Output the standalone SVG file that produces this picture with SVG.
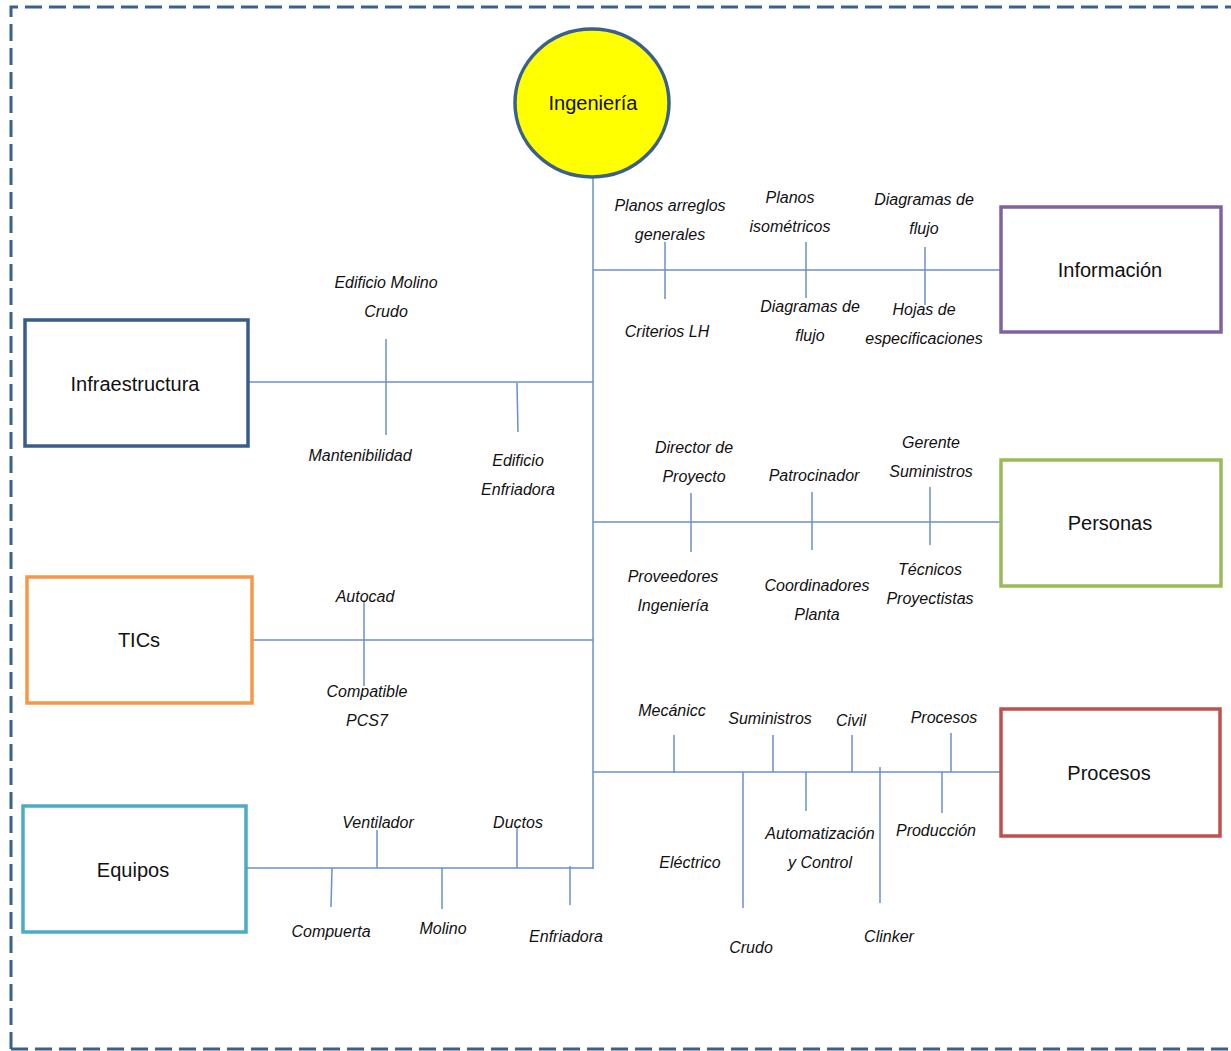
<svg xmlns="http://www.w3.org/2000/svg" width="1231" height="1051" viewBox="0 0 1231 1051">
<style>
.lbl{font-family:"Liberation Sans",Arial,sans-serif;font-style:italic;font-size:16px;fill:#111;text-anchor:middle}
.nt{font-family:"Liberation Sans",Arial,sans-serif;font-size:20px;fill:#111;text-anchor:middle;dominant-baseline:central}
.ln{stroke:#6890CA;stroke-width:1.5;fill:none}
.box{fill:#fff;stroke-width:3.5}
</style>
<rect width="1231" height="1051" fill="#fff"/>
<path d="M11 1049 V7 H1231 M11 1049 H1231" fill="none" stroke="#3B5F8F" stroke-width="3" stroke-dasharray="17 7"/>
<g id="connectors" class="ln">
<line x1="593" y1="178" x2="593" y2="869"/>
<line x1="593" y1="270" x2="1001" y2="270"/>
<line x1="248" y1="382" x2="593" y2="382"/>
<line x1="593" y1="522" x2="1001" y2="522"/>
<line x1="252" y1="640" x2="593" y2="640"/>
<line x1="593" y1="772" x2="1001" y2="772"/>
<line x1="246" y1="868" x2="593" y2="868"/>
<line x1="665" y1="242" x2="665" y2="299"/>
<line x1="806" y1="242" x2="806" y2="298"/>
<line x1="925" y1="247" x2="925" y2="305"/>
<line x1="386" y1="339" x2="386" y2="435"/>
<line x1="517" y1="383" x2="518" y2="432"/>
<line x1="691" y1="493" x2="691" y2="552"/>
<line x1="812" y1="492" x2="812" y2="550"/>
<line x1="930" y1="487" x2="930" y2="545"/>
<line x1="364" y1="600" x2="364" y2="686"/>
<line x1="377" y1="830" x2="377" y2="868"/>
<line x1="332" y1="868" x2="331" y2="907"/>
<line x1="442" y1="868" x2="442" y2="909"/>
<line x1="517" y1="828" x2="517" y2="868"/>
<line x1="570" y1="866" x2="570" y2="905"/>
<line x1="674" y1="735" x2="674" y2="773"/>
<line x1="743" y1="772" x2="743" y2="908"/>
<line x1="773" y1="735" x2="773" y2="772"/>
<line x1="806" y1="772" x2="806" y2="811"/>
<line x1="852" y1="735" x2="852" y2="772"/>
<line x1="880" y1="767" x2="880" y2="903"/>
<line x1="951" y1="733" x2="951" y2="772"/>
<line x1="942" y1="772" x2="942" y2="813"/>
</g>
<g id="ingenieria">
<ellipse cx="592" cy="103" rx="77" ry="74" fill="#FFFF00" stroke="#3B5F8F" stroke-width="3.5"/>
<text class="nt" x="593" y="103">Ingeniería</text>
</g>
<g id="informacion">
<rect class="box" x="1001" y="207" width="220" height="125" stroke="#7F63A1"/>
<text class="nt" x="1110" y="270">Información</text>
</g>
<g id="personas">
<rect class="box" x="1001" y="460" width="220" height="126" stroke="#9BBB59"/>
<text class="nt" x="1110" y="523">Personas</text>
</g>
<g id="procesos">
<rect class="box" x="1001" y="709" width="219" height="127" stroke="#C0504D"/>
<text class="nt" x="1109" y="773">Procesos</text>
</g>
<g id="infraestructura">
<rect class="box" x="25" y="320" width="223" height="126" stroke="#385D8A"/>
<text class="nt" x="135" y="384">Infraestructura</text>
</g>
<g id="tics">
<rect class="box" x="27" y="577" width="225" height="126" stroke="#F79646"/>
<text class="nt" x="139" y="640">TICs</text>
</g>
<g id="equipos">
<rect class="box" x="23" y="806" width="223" height="126" stroke="#4BACC6"/>
<text class="nt" x="133" y="870">Equipos</text>
</g>
<g id="labels">
<text class="lbl" x="670" y="211">Planos arreglos</text>
<text class="lbl" x="670" y="240">generales</text>
<text class="lbl" x="667" y="337">Criterios LH</text>
<text class="lbl" x="790" y="203">Planos</text>
<text class="lbl" x="790" y="232">isométricos</text>
<text class="lbl" x="810" y="312">Diagramas de</text>
<text class="lbl" x="810" y="341">flujo</text>
<text class="lbl" x="924" y="205">Diagramas de</text>
<text class="lbl" x="924" y="234">flujo</text>
<text class="lbl" x="924" y="315">Hojas de</text>
<text class="lbl" x="924" y="344">especificaciones</text>
<text class="lbl" x="386" y="288">Edificio Molino</text>
<text class="lbl" x="386" y="317">Crudo</text>
<text class="lbl" x="360" y="461">Mantenibilidad</text>
<text class="lbl" x="518" y="466">Edificio</text>
<text class="lbl" x="518" y="495">Enfriadora</text>
<text class="lbl" x="694" y="453">Director de</text>
<text class="lbl" x="694" y="482">Proyecto</text>
<text class="lbl" x="814" y="481">Patrocinador</text>
<text class="lbl" x="931" y="448">Gerente</text>
<text class="lbl" x="931" y="477">Suministros</text>
<text class="lbl" x="673" y="582">Proveedores</text>
<text class="lbl" x="673" y="611">Ingeniería</text>
<text class="lbl" x="817" y="591">Coordinadores</text>
<text class="lbl" x="817" y="620">Planta</text>
<text class="lbl" x="930" y="575">Técnicos</text>
<text class="lbl" x="930" y="604">Proyectistas</text>
<text class="lbl" x="365" y="602">Autocad</text>
<text class="lbl" x="367" y="697">Compatible</text>
<text class="lbl" x="367" y="726">PCS7</text>
<text class="lbl" x="378" y="828">Ventilador</text>
<text class="lbl" x="518" y="828">Ductos</text>
<text class="lbl" x="331" y="937">Compuerta</text>
<text class="lbl" x="443" y="934">Molino</text>
<text class="lbl" x="566" y="942">Enfriadora</text>
<text class="lbl" x="672" y="716">Mecánicc</text>
<text class="lbl" x="770" y="724">Suministros</text>
<text class="lbl" x="851" y="726">Civil</text>
<text class="lbl" x="944" y="723">Procesos</text>
<text class="lbl" x="690" y="868">Eléctrico</text>
<text class="lbl" x="820" y="839">Automatización</text>
<text class="lbl" x="820" y="868">y Control</text>
<text class="lbl" x="936" y="836">Producción</text>
<text class="lbl" x="751" y="953">Crudo</text>
<text class="lbl" x="889" y="942">Clinker</text>
</g>
</svg>
